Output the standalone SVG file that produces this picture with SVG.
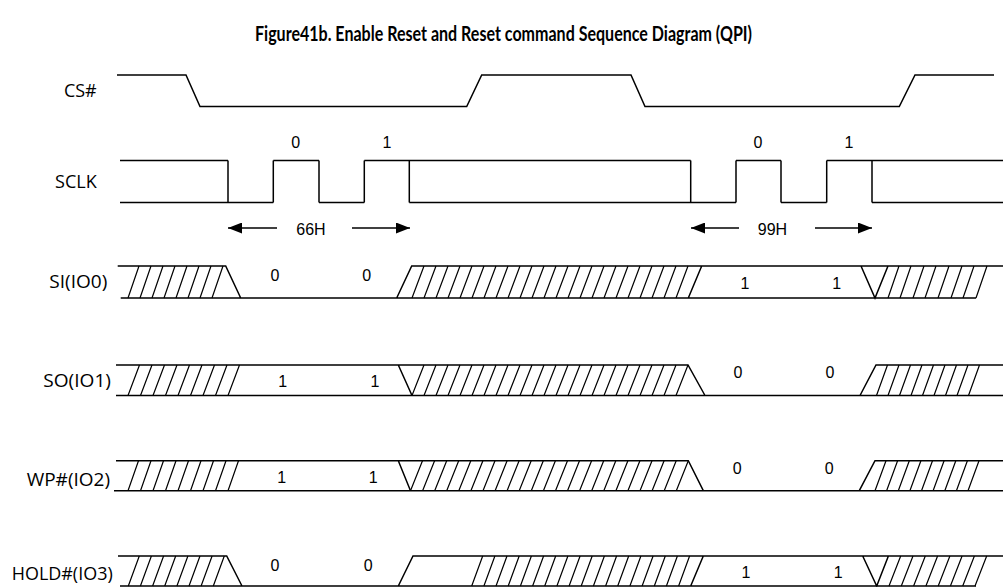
<svg xmlns="http://www.w3.org/2000/svg" width="1003" height="587" viewBox="0 0 1003 587">
<style>
.w{fill:none;stroke:#000;stroke-width:1.5;stroke-linejoin:miter}
.h{fill:none;stroke:#000;stroke-width:1.2}
.lbl{font-family:"Open Sans","DejaVu Sans",sans-serif;font-size:18px;text-anchor:end;fill:#000}
.num{font-family:"Liberation Sans",Arial,sans-serif;font-size:16px;text-anchor:middle;fill:#000}
.hx{font-family:"Liberation Sans",Arial,sans-serif;font-size:16px;text-anchor:middle;fill:#000}
.title{font-family:Lato,"Open Sans",sans-serif;font-weight:700;font-size:20.5px;text-anchor:middle;fill:#000}
.arr{fill:none;stroke:#000;stroke-width:1.5}
</style>
<defs>
<marker id="ah" markerUnits="userSpaceOnUse" markerWidth="14" markerHeight="11" refX="14" refY="5.5" orient="auto">
<path d="M0,0L14,5.5L0,11z" fill="#000"/>
</marker>
</defs>
<rect width="1003" height="587" fill="#fff"/>
<text class="title" x="503.5" y="40.5" textLength="497" lengthAdjust="spacingAndGlyphs">Figure41b. Enable Reset and Reset command Sequence Diagram (QPI)</text>

<g id="cs">
<text class="lbl" x="96.7" y="97" textLength="32.7" lengthAdjust="spacingAndGlyphs">CS#</text>
<path class="w" d="M117 75H186L200 106.5H466.7L481.7 75H631L645 106.5H899.3L915 75H994"/>
</g>

<g id="sclk">
<text class="lbl" x="96.7" y="188" textLength="41.7" lengthAdjust="spacingAndGlyphs">SCLK</text>
<path class="w" d="M120 160.5H228M273.3 160.5H319M364.3 160.5H690.7M736 160.5H781M826.7 160.5H1003M120 202.5H273.3M319 202.5H364.3M409.3 202.5H736M781 202.5H826.7M872 202.5H1003M228 160.5V202.5M273.3 160.5V202.5M319 160.5V202.5M364.3 160.5V202.5M409.3 160.5V202.5M690.7 160.5V202.5M736 160.5V202.5M781 160.5V202.5M826.7 160.5V202.5M872 160.5V202.5"/>
<text class="num" x="295.8" y="148.3">0</text>
<text class="num" x="387" y="148.3">1</text>
<text class="num" x="758" y="148.3">0</text>
<text class="num" x="849" y="148.3">1</text>
</g>

<g id="connectors">
<line class="arr" x1="277" y1="228" x2="228" y2="228" marker-end="url(#ah)"/>
<line class="arr" x1="352" y1="228" x2="410" y2="228" marker-end="url(#ah)"/>
<line class="arr" x1="739" y1="228" x2="691" y2="228" marker-end="url(#ah)"/>
<line class="arr" x1="815" y1="228" x2="872" y2="228" marker-end="url(#ah)"/>
<text class="hx" x="311" y="235">66H</text>
<text class="hx" x="772.5" y="235">99H</text>
</g>

<g id="si">
<text class="lbl" x="107.3" y="288" textLength="58" lengthAdjust="spacingAndGlyphs">SI(IO0)</text>
<path class="w" d="M117.7 266H225.7L240.7 298M120.7 298H976M396.7 298L411.7 266H1003M688.3 298L701.7 266M861 266L875 298L888 266"/>
<path class="h" d="M128 298L139 266M140 298L151 266M152 298L163 266M164 298L175 266M176 298L187 266M188 298L199 266M200 298L211 266M212 298L223 266M412 298L424 266M424 298L436 266M436 298L448 266M448 298L460 266M460 298L472 266M472 298L484 266M484 298L496 266M496 298L508 266M508 298L520 266M520 298L532 266M532 298L544 266M544 298L556 266M556 298L568 266M568 298L580 266M580 298L592 266M592 298L604 266M604 298L616 266M616 298L628 266M628 298L640 266M640 298L652 266M652 298L664 266M664 298L676 266M676 298L688 266M888 298L899 266M900 298L911 266M913 298L924 266M925 298L936 266M938 298L949 266M951 298L962 266M963 298L974 266M976 298L987 266"/>
<text class="num" x="275" y="280.7">0</text>
<text class="num" x="366.7" y="280.7">0</text>
<text class="num" x="745" y="289">1</text>
<text class="num" x="836.7" y="289">1</text>
</g>

<g id="so">
<text class="lbl" x="111" y="387" textLength="67.7" lengthAdjust="spacingAndGlyphs">SO(IO1)</text>
<path class="w" d="M116 365H688L705 395.5M116 395.5H1003M398.3 365L412 395.5M860 395.5L876 365H1003"/>
<path class="h" d="M128 395.5L139.5 365M140.5 395.5L152 365M153 395.5L164.5 365M165.5 395.5L177 365M178 395.5L189.5 365M190.5 395.5L202 365M203 395.5L214.5 365M215.5 395.5L227 365M228 395.5L239.5 365M412 395.5L424 365M424 395.5L436 365M436 395.5L448 365M448 395.5L460 365M460 395.5L472 365M472 395.5L484 365M484 395.5L496 365M496 395.5L508 365M508 395.5L520 365M520 395.5L532 365M532 395.5L544 365M544 395.5L556 365M556 395.5L568 365M568 395.5L580 365M580 395.5L592 365M592 395.5L604 365M604 395.5L616 365M616 395.5L628 365M628 395.5L640 365M640 395.5L652 365M652 395.5L664 365M664 395.5L676 365M676 395.5L688 365M876.5 395.5L887.5 365M888 395.5L899 365M899.5 395.5L910.5 365M911 395.5L922 365M922.5 395.5L933.5 365M934 395.5L945 365M945.5 395.5L956.5 365M957 395.5L968 365M968.5 395.5L979.5 365"/>
<text class="num" x="282.7" y="386.7">1</text>
<text class="num" x="375" y="386.7">1</text>
<text class="num" x="738" y="378.3">0</text>
<text class="num" x="830" y="378.3">0</text>
</g>

<g id="wp">
<text class="lbl" x="110" y="486" textLength="83.3" lengthAdjust="spacingAndGlyphs">WP#(IO2)</text>
<path class="w" d="M116 460.7H688.3L703.3 490.7M114 490.7H1003M398.3 460.7L410.5 490.7M859.3 490.7L875 460.7H1003"/>
<path class="h" d="M128 490.7L138.5 460.7M140.5 490.7L151 460.7M153 490.7L163.5 460.7M165.5 490.7L176 460.7M178 490.7L188.5 460.7M190.5 490.7L201 460.7M203 490.7L213.5 460.7M215.5 490.7L226 460.7M228 490.7L238.5 460.7M410.5 490.7L422.5 460.7M422.6 490.7L434.6 460.7M434.7 490.7L446.7 460.7M446.7 490.7L458.7 460.7M458.8 490.7L470.8 460.7M470.9 490.7L482.9 460.7M483 490.7L495 460.7M495.1 490.7L507.1 460.7M507.1 490.7L519.1 460.7M519.2 490.7L531.2 460.7M531.3 490.7L543.3 460.7M543.4 490.7L555.4 460.7M555.5 490.7L567.5 460.7M567.5 490.7L579.5 460.7M579.6 490.7L591.6 460.7M591.7 490.7L603.7 460.7M603.8 490.7L615.8 460.7M615.9 490.7L627.9 460.7M627.9 490.7L639.9 460.7M640 490.7L652 460.7M652.1 490.7L664.1 460.7M664.2 490.7L676.2 460.7M676.3 490.7L688.3 460.7M875 490.7L886 460.7M886.6 490.7L897.6 460.7M898.3 490.7L909.3 460.7M909.9 490.7L920.9 460.7M921.5 490.7L932.5 460.7M933.1 490.7L944.1 460.7M944.8 490.7L955.8 460.7M956.4 490.7L967.4 460.7M968 490.7L979 460.7"/>
<text class="num" x="281.7" y="482.7">1</text>
<text class="num" x="373.3" y="482.7">1</text>
<text class="num" x="737.3" y="474">0</text>
<text class="num" x="829.3" y="474">0</text>
</g>

<g id="hold">
<text class="lbl" x="112.7" y="580" textLength="101" lengthAdjust="spacingAndGlyphs">HOLD#(IO3)</text>
<path class="w" d="M118 556H226.7L242 586M120 586H976M398.3 586L413 556H1003M690.7 586L703.3 556M862.7 556L876.7 586L888.4 556"/>
<path class="h" d="M128.3 586L139.3 556M140.4 586L151.4 556M152.6 586L163.6 556M164.7 586L175.7 556M176.9 586L187.9 556M189 586L200 556M201.1 586L212.1 556M213.3 586L224.3 556M471.7 586L482.7 556M483.9 586L494.9 556M496 586L507 556M508.2 586L519.2 556M520.4 586L531.4 556M532.6 586L543.6 556M544.7 586L555.7 556M556.9 586L567.9 556M569.1 586L580.1 556M581.2 586L592.2 556M593.4 586L604.4 556M605.6 586L616.6 556M617.7 586L628.7 556M629.9 586L640.9 556M642.1 586L653.1 556M654.3 586L665.3 556M666.4 586L677.4 556M678.6 586L689.6 556M889 586L900.7 556M901.3 586L913 556M913.6 586L925.3 556M925.9 586L937.6 556M938.2 586L949.9 556M950.4 586L962.1 556M962.7 586L974.4 556M975 586L986.7 556"/>
<text class="num" x="275" y="570.7">0</text>
<text class="num" x="368.3" y="570.7">0</text>
<text class="num" x="746" y="578.3">1</text>
<text class="num" x="838.3" y="578.3">1</text>
</g>
</svg>
